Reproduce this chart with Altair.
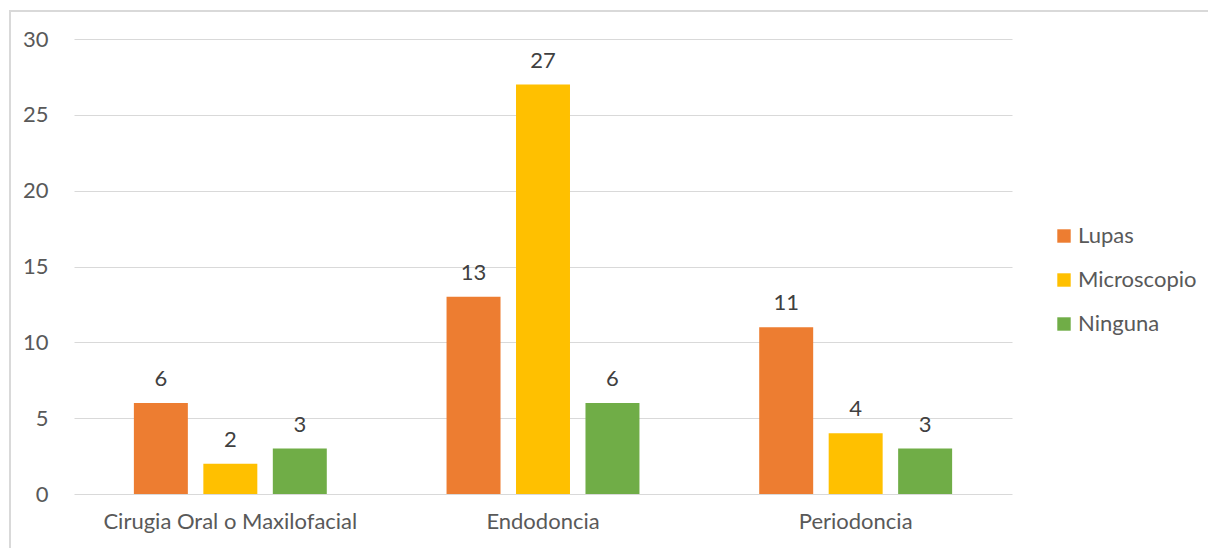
import altair as alt
import pandas as pd

# Survey counts by specialty and magnification device
especialidades = ["Cirugia Oral o Maxilofacial", "Endodoncia", "Periodoncia"]
dispositivos = ["Lupas", "Microscopio", "Ninguna"]
lupas = [6, 13, 11]
microscopio = [2, 27, 4]
ninguna = [3, 6, 3]
colores = ["#ED7D31", "#FFC000", "#70AD47"]

rows = []
for i, esp in enumerate(especialidades):
    for disp, serie in zip(dispositivos, [lupas, microscopio, ninguna]):
        rows.append({"Especialidad": esp, "Dispositivo": disp, "Valor": serie[i]})
df = pd.DataFrame(rows)

FONT = "Lato"
TXT = "#595959"
FS = 22

x_enc = alt.X(
    "Especialidad:N",
    sort=especialidades,
    scale=alt.Scale(paddingInner=0.383, paddingOuter=0.1915),
    axis=alt.Axis(title=None, labelAngle=0, labelPadding=17, ticks=False,
                  domain=False, labelFontSize=FS, labelColor=TXT, labelFont=FONT,
                  labelLimit=0),
)
y_enc = alt.Y(
    "Valor:Q",
    scale=alt.Scale(domain=[0, 30], nice=False),
    axis=alt.Axis(title=None, values=[0, 5, 10, 15, 20, 25, 30], ticks=False,
                  domain=False, labelPadding=26, labelFontSize=FS, labelColor=TXT,
                  labelFont=FONT, gridColor="#d9d9d9", gridWidth=1.2),
)
xoff = alt.XOffset("Dispositivo:N", sort=dispositivos,
                   scale=alt.Scale(paddingInner=0.223, paddingOuter=0))
color = alt.Color(
    "Dispositivo:N",
    sort=dispositivos,
    scale=alt.Scale(domain=dispositivos, range=colores),
    legend=alt.Legend(title=None, orient="none", legendX=979, legendY=186,
                      symbolType="square", symbolSize=180, symbolStrokeWidth=0,
                      labelFontSize=FS, labelColor=TXT, labelFont=FONT,
                      rowPadding=22, labelOffset=3),
)

bars = alt.Chart(df).mark_bar().encode(x=x_enc, y=y_enc, xOffset=xoff, color=color)

labels = alt.Chart(df).mark_text(
    baseline="bottom", dy=-12, fontSize=FS, font=FONT, color="#404040"
).encode(x=x_enc, y=y_enc, xOffset=xoff, text="Valor:Q")

frame = alt.Chart(df).mark_rect(
    fill=None, stroke="#d9d9d9", strokeWidth=1.5
).encode(x=alt.value(-64), x2=alt.value(1300), y=alt.value(-28), y2=alt.value(700))

chart = (
    alt.layer(frame, bars, labels)
    .properties(
        width=938, height=455,
        autosize=alt.AutoSizeParams(type="none"),
        padding={"left": 74, "top": 39, "right": 196, "bottom": 54},
        background="white",
    )
    .configure_view(stroke=None)
)

chart.save("out.html", embed_options={"renderer": "svg", "actions": False})
